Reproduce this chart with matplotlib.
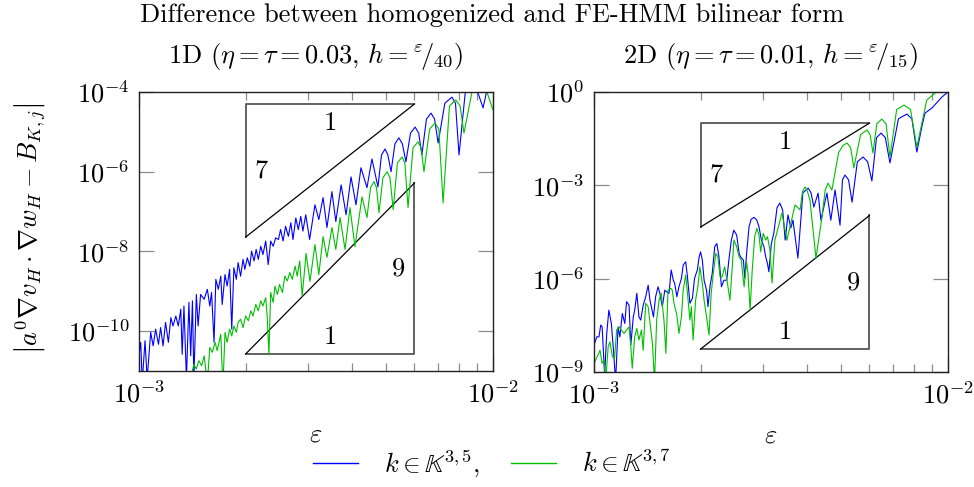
import numpy as np
import matplotlib
matplotlib.use("Agg")
import matplotlib.pyplot as plt
from matplotlib.lines import Line2D
from matplotlib.ticker import LogLocator, NullFormatter, NullLocator

plt.rcParams['font.family'] = 'cmr10'
plt.rcParams['mathtext.fontset'] = 'cm'
plt.rcParams['axes.formatter.use_mathtext'] = True

# values, stored as (log10 eps, log10 error)
blue_1d = np.array([
    (-3.000, -10.60), (-2.995, -10.28), (-2.991, -11.30), (-2.983, -10.24), (-2.977, -11.20),
    (-2.967, -10.03), (-2.960, -10.37), (-2.953, -9.95), (-2.945, -10.33), (-2.939, -9.91),
    (-2.932, -10.37), (-2.925, -9.78), (-2.917, -10.28), (-2.910, -9.66), (-2.904, -9.87),
    (-2.896, -9.62), (-2.889, -9.87), (-2.882, -9.45), (-2.878, -10.58), (-2.873, -9.37),
    (-2.866, -11.20), (-2.859, -9.28), (-2.854, -10.62), (-2.849, -9.24), (-2.845, -11.20),
    (-2.838, -9.08), (-2.833, -9.87), (-2.826, -9.08), (-2.816, -9.20), (-2.807, -8.95),
    (-2.800, -9.37), (-2.795, -9.03), (-2.788, -10.28), (-2.783, -8.70), (-2.776, -8.95),
    (-2.769, -8.62), (-2.765, -9.33), (-2.757, -8.58), (-2.751, -8.87), (-2.744, -8.45),
    (-2.738, -9.95), (-2.732, -8.41), (-2.725, -8.70), (-2.720, -8.28), (-2.713, -8.62),
    (-2.706, -8.20), (-2.701, -8.45), (-2.694, -8.16), (-2.687, -8.37), (-2.682, -7.99),
    (-2.675, -8.24), (-2.669, -7.95), (-2.663, -8.20), (-2.656, -7.87), (-2.650, -8.08),
    (-2.642, -7.74), (-2.635, -8.33), (-2.628, -7.74), (-2.621, -7.87), (-2.614, -7.66),
    (-2.606, -7.70), (-2.600, -7.45), (-2.593, -7.74), (-2.586, -7.37), (-2.578, -7.62),
    (-2.571, -7.28), (-2.565, -7.70), (-2.557, -7.16), (-2.550, -7.45), (-2.543, -7.12),
    (-2.537, -7.49), (-2.529, -7.08), (-2.518, -7.70), (-2.503, -6.83), (-2.492, -7.20),
    (-2.480, -6.65), (-2.469, -7.40), (-2.455, -6.50), (-2.444, -7.25), (-2.429, -6.33),
    (-2.415, -7.08), (-2.401, -6.13), (-2.387, -6.83), (-2.373, -5.90), (-2.356, -6.40),
    (-2.342, -5.68), (-2.325, -6.38), (-2.315, -5.58), (-2.305, -5.43), (-2.297, -5.58),
    (-2.288, -6.00), (-2.277, -5.30), (-2.266, -5.15), (-2.256, -5.30), (-2.246, -5.75),
    (-2.233, -5.03), (-2.220, -4.88), (-2.210, -5.03), (-2.201, -5.58), (-2.188, -4.68),
    (-2.175, -4.53), (-2.165, -4.68), (-2.155, -5.28), (-2.136, -4.28), (-2.116, -4.13),
    (-2.106, -4.28), (-2.096, -5.58), (-2.078, -3.98), (-2.059, -3.83), (-2.044, -3.98),
    (-2.028, -4.40), (-2.016, -3.90), (-2.003, -3.75),
])

green_1d = np.array([
    (-2.852, -11.40), (-2.849, -10.99), (-2.845, -10.83), (-2.838, -10.95), (-2.831, -10.74),
    (-2.823, -10.87), (-2.816, -10.62), (-2.807, -11.30), (-2.800, -10.41), (-2.793, -10.53),
    (-2.785, -10.28), (-2.779, -10.49), (-2.769, -10.08), (-2.763, -11.40), (-2.757, -10.03),
    (-2.751, -10.28), (-2.744, -9.95), (-2.738, -10.12), (-2.732, -9.87), (-2.725, -10.03),
    (-2.720, -9.78), (-2.713, -9.70), (-2.706, -9.91), (-2.699, -9.62), (-2.691, -9.74),
    (-2.684, -9.49), (-2.678, -9.62), (-2.670, -9.33), (-2.663, -9.49), (-2.656, -9.24),
    (-2.650, -9.37), (-2.642, -9.16), (-2.638, -9.62), (-2.633, -10.58), (-2.628, -9.03),
    (-2.621, -9.28), (-2.616, -8.87), (-2.609, -9.08), (-2.603, -8.83), (-2.595, -9.03),
    (-2.588, -8.62), (-2.581, -8.74), (-2.574, -8.53), (-2.567, -8.70), (-2.559, -8.37),
    (-2.553, -8.62), (-2.546, -8.24), (-2.539, -9.12), (-2.528, -8.05), (-2.517, -8.75),
    (-2.503, -7.83), (-2.492, -8.58), (-2.480, -7.63), (-2.469, -8.15), (-2.455, -7.40),
    (-2.444, -7.95), (-2.432, -7.15), (-2.418, -7.95), (-2.404, -6.90), (-2.390, -7.88),
    (-2.370, -6.63), (-2.356, -7.15), (-2.346, -6.40), (-2.336, -6.25), (-2.329, -6.40),
    (-2.322, -7.03), (-2.311, -6.15), (-2.299, -6.00), (-2.291, -6.15), (-2.282, -6.95),
    (-2.270, -5.78), (-2.257, -5.63), (-2.249, -5.78), (-2.240, -6.90), (-2.226, -5.40),
    (-2.212, -5.25), (-2.203, -5.40), (-2.195, -6.00), (-2.179, -4.93), (-2.164, -4.78),
    (-2.153, -4.93), (-2.141, -6.78), (-2.123, -4.35), (-2.105, -4.20), (-2.093, -4.35),
    (-2.082, -5.03), (-2.059, -3.98), (-2.037, -3.83), (-2.018, -3.98), (-2.000, -4.45),
])

blue_2d = np.array([
    (-3.000, -8.13), (-2.992, -7.87), (-2.986, -7.87), (-2.981, -7.49), (-2.977, -7.55),
    (-2.970, -9.10), (-2.964, -7.76), (-2.958, -7.01), (-2.951, -7.44), (-2.945, -8.30),
    (-2.939, -9.30), (-2.932, -7.55), (-2.927, -7.87), (-2.920, -7.12), (-2.913, -7.44),
    (-2.908, -6.74), (-2.901, -6.85), (-2.896, -8.13), (-2.889, -7.23), (-2.885, -7.01),
    (-2.879, -6.47), (-2.873, -7.23), (-2.868, -7.33), (-2.861, -6.85), (-2.854, -6.58),
    (-2.847, -6.21), (-2.842, -6.69), (-2.838, -6.90), (-2.832, -7.23), (-2.826, -6.58),
    (-2.819, -6.26), (-2.814, -6.47), (-2.807, -6.90), (-2.800, -6.37), (-2.795, -6.42),
    (-2.788, -6.47), (-2.782, -5.72), (-2.776, -6.05), (-2.772, -6.15), (-2.766, -6.58),
    (-2.760, -6.26), (-2.753, -5.99), (-2.748, -5.56), (-2.741, -5.46), (-2.736, -5.94),
    (-2.729, -6.79), (-2.722, -6.63), (-2.716, -5.99), (-2.708, -5.72), (-2.703, -5.30),
    (-2.699, -5.14), (-2.694, -5.40), (-2.689, -6.05), (-2.682, -6.37), (-2.678, -6.90),
    (-2.672, -6.21), (-2.666, -5.83), (-2.659, -4.97), (-2.653, -4.87), (-2.647, -5.30),
    (-2.640, -6.26), (-2.633, -6.05), (-2.625, -6.05), (-2.619, -5.40), (-2.612, -4.76),
    (-2.605, -4.44), (-2.597, -4.60), (-2.590, -5.19), (-2.586, -5.30), (-2.578, -5.40),
    (-2.574, -5.99), (-2.569, -5.19), (-2.562, -4.33), (-2.556, -4.09), (-2.548, -4.03),
    (-2.540, -4.12), (-2.534, -4.33), (-2.527, -4.76), (-2.520, -4.97), (-2.515, -5.30),
    (-2.510, -5.51), (-2.506, -5.78), (-2.499, -4.87), (-2.492, -4.54), (-2.483, -3.72),
    (-2.475, -3.57), (-2.467, -3.80), (-2.460, -4.76), (-2.452, -3.95), (-2.444, -4.37),
    (-2.438, -4.12), (-2.424, -5.34), (-2.410, -3.24), (-2.395, -3.09), (-2.387, -3.24),
    (-2.379, -3.70), (-2.367, -3.25), (-2.359, -4.12), (-2.342, -3.25), (-2.331, -4.12),
    (-2.319, -3.15), (-2.305, -4.28), (-2.298, -2.82), (-2.291, -2.67), (-2.281, -2.82),
    (-2.271, -3.54), (-2.256, -2.24), (-2.240, -2.09), (-2.227, -2.24), (-2.215, -2.86),
    (-2.202, -1.47), (-2.189, -1.32), (-2.177, -1.47), (-2.164, -2.28), (-2.140, -0.86),
    (-2.116, -0.71), (-2.102, -0.86), (-2.088, -1.93), (-2.074, -1.12), (-2.065, -0.68),
    (-2.045, -0.51), (-2.017, -0.16), (-2.000, 0.00),
])

green_2d = np.array([
    (-3.000, -8.72), (-2.991, -8.51), (-2.983, -8.30), (-2.977, -8.72), (-2.972, -8.62),
    (-2.967, -9.30), (-2.960, -8.19), (-2.955, -8.03), (-2.948, -8.51), (-2.942, -8.56),
    (-2.936, -7.65), (-2.929, -7.55), (-2.923, -7.65), (-2.915, -7.76), (-2.908, -7.65),
    (-2.901, -7.55), (-2.896, -8.19), (-2.892, -8.88), (-2.885, -7.87), (-2.879, -7.60),
    (-2.873, -7.97), (-2.866, -7.65), (-2.861, -8.30), (-2.854, -6.79), (-2.847, -6.90),
    (-2.842, -7.39), (-2.835, -8.08), (-2.829, -9.30), (-2.823, -7.33), (-2.816, -6.69),
    (-2.810, -6.47), (-2.802, -7.39), (-2.797, -8.40), (-2.791, -6.37), (-2.783, -6.31),
    (-2.779, -6.37), (-2.774, -6.79), (-2.766, -7.17), (-2.760, -7.76), (-2.753, -7.23),
    (-2.748, -6.37), (-2.741, -5.88), (-2.736, -6.47), (-2.729, -7.33), (-2.725, -6.90),
    (-2.720, -7.97), (-2.713, -6.69), (-2.706, -6.21), (-2.701, -5.62), (-2.694, -6.15),
    (-2.689, -6.69), (-2.682, -7.23), (-2.675, -7.81), (-2.669, -6.47), (-2.663, -5.83),
    (-2.656, -5.19), (-2.650, -5.30), (-2.644, -5.94), (-2.638, -5.94), (-2.631, -5.62),
    (-2.623, -6.15), (-2.616, -6.69), (-2.609, -5.56), (-2.605, -4.76), (-2.597, -4.97),
    (-2.590, -5.30), (-2.584, -5.40), (-2.576, -6.26), (-2.569, -5.46), (-2.565, -5.83),
    (-2.559, -7.01), (-2.553, -5.72), (-2.546, -4.65), (-2.540, -4.38), (-2.534, -4.60),
    (-2.529, -5.14), (-2.522, -4.54), (-2.515, -4.76), (-2.510, -4.65), (-2.503, -5.08),
    (-2.497, -6.14), (-2.489, -4.76), (-2.480, -4.37), (-2.469, -3.89), (-2.455, -4.76),
    (-2.432, -3.63), (-2.418, -3.79), (-2.411, -3.20), (-2.404, -3.05), (-2.397, -3.20),
    (-2.390, -3.47), (-2.373, -5.34), (-2.356, -4.02), (-2.347, -3.15), (-2.339, -2.93),
    (-2.328, -3.15), (-2.309, -1.95), (-2.297, -1.72), (-2.285, -1.64), (-2.275, -1.79),
    (-2.266, -2.44), (-2.247, -1.37), (-2.229, -1.22), (-2.220, -1.37), (-2.212, -1.96),
    (-2.201, -1.02), (-2.187, -0.87), (-2.175, -1.02), (-2.164, -2.09), (-2.145, -0.56),
    (-2.124, -0.42), (-2.106, -0.56), (-2.088, -1.77), (-2.074, -1.01), (-2.060, -0.26),
    (-2.032, 0.01), (-2.000, 0.30),
])

# slope triangles: x extent, anchor value, slope
tri_x = (2e-3, 6e-3)
tri_1d = [(5e-5, 7, 'upper'), (2.66e-11, 9, 'lower')]
tri_2d = [(1e-1, 7, 'upper'), (5.45e-9, 9, 'lower')]

ylim_1d = (1e-11, 1e-4)
ylim_2d = (1e-9, 1e0)
yticks_1d = [1e-10, 1e-8, 1e-6, 1e-4]
yticks_2d = [1e-9, 1e-6, 1e-3, 1e0]

blue = '#0000ff'
green = '#00bf00'
fs = 19

fig = plt.figure(figsize=(9.74, 4.87), dpi=100)
ax1 = fig.add_axes([139 / 974, 116 / 487, 354 / 974, 279 / 487])
ax2 = fig.add_axes([594 / 974, 115 / 487, 354 / 974, 280 / 487])


def slope_triangle(ax, x0, x1, anchor, slope, kind):
    xm = np.sqrt(x0 * x1)
    if kind == 'upper':
        ylo = anchor * (x0 / x1) ** slope
        ax.plot([x0, x0, x1], [ylo, anchor, anchor], color='#555555', lw=1.3, zorder=1)
        ax.plot([x0, x1], [ylo, anchor], color='black', lw=0.9, zorder=1)
        ax.annotate('1', (xm, anchor), xytext=(0, -14), textcoords='offset points',
                    ha='center', va='center', fontsize=fs)
        ax.annotate(str(slope), (x0, np.sqrt(ylo * anchor)), xytext=(11.5, 0),
                    textcoords='offset points', ha='center', va='center', fontsize=fs)
    else:
        yhi = anchor * (x1 / x0) ** slope
        ax.plot([x0, x1, x1], [anchor, anchor, yhi], color='#555555', lw=1.3, zorder=1)
        ax.plot([x0, x1], [anchor, yhi], color='black', lw=0.9, zorder=1)
        ax.annotate('1', (xm, anchor), xytext=(0, 12.5), textcoords='offset points',
                    ha='center', va='center', fontsize=fs)
        ax.annotate(str(slope), (x1, np.sqrt(yhi * anchor)), xytext=(-11.5, 0),
                    textcoords='offset points', ha='center', va='center', fontsize=fs)


def style(ax, ylim, yticks):
    ax.set_xscale('log')
    ax.set_yscale('log')
    ax.set_xlim(1e-3, 1e-2)
    ax.set_ylim(*ylim)
    ax.set_xticks([1e-3, 1e-2], [r'$10^{-3}$', r'$10^{-2}$'])
    ax.xaxis.set_minor_locator(LogLocator(base=10, subs=np.arange(2, 10)))
    ax.xaxis.set_minor_formatter(NullFormatter())
    ax.set_yticks(yticks, [r'$10^{%d}$' % round(np.log10(t)) for t in yticks])
    ax.yaxis.set_minor_locator(NullLocator())
    ax.tick_params(which='both', direction='in', top=True, right=True,
                   color='#8c8c8c', labelsize=fs)
    ax.tick_params(which='major', length=11, width=0.9, pad=7)
    ax.tick_params(which='minor', length=6, width=0.9)
    for sp in ax.spines.values():
        sp.set_color('#222222')
        sp.set_linewidth(1.0)
    ax.set_xlabel(r'$\varepsilon$', fontsize=fs)
    ax.xaxis.set_label_coords(0.5, -0.185)


for ax, tris in [(ax1, tri_1d), (ax2, tri_2d)]:
    for anchor, slope, kind in tris:
        slope_triangle(ax, tri_x[0], tri_x[1], anchor, slope, kind)

ax1.plot(10 ** blue_1d[:, 0], 10 ** blue_1d[:, 1], color=blue, lw=0.8, zorder=2)
ax1.plot(10 ** green_1d[:, 0], 10 ** green_1d[:, 1], color=green, lw=0.8, zorder=2)
ax2.plot(10 ** blue_2d[:, 0], 10 ** blue_2d[:, 1], color=blue, lw=0.8, zorder=2)
ax2.plot(10 ** green_2d[:, 0], 10 ** green_2d[:, 1], color=green, lw=0.8, zorder=2)

style(ax1, ylim_1d, yticks_1d)
style(ax2, ylim_2d, yticks_2d)

fig.text(0.505, 1 - 15 / 487, 'Difference between homogenized and FE-HMM bilinear form',
         ha='center', va='center', fontsize=fs)
fig.text(316 / 974, 1 - 57 / 487,
         r'1D ($\eta=\tau=0.03$, $h={}^{\varepsilon}\!/_{40}$)',
         ha='center', va='center', fontsize=fs)
fig.text(771 / 974, 1 - 57 / 487,
         r'2D ($\eta=\tau=0.01$, $h={}^{\varepsilon}\!/_{15}$)',
         ha='center', va='center', fontsize=fs)
fig.text(30 / 974, 1 - 228 / 487,
         r'$\left|a^0\nabla v_H\cdot\nabla w_H-B_{K,j}\right|$',
         rotation=90, ha='center', va='center', fontsize=fs)

handles = [Line2D([], [], color=blue, lw=1.0), Line2D([], [], color=green, lw=1.0)]
fig.legend(handles, [r'$k\in\mathbb{K}^{3,5}$,', r'$k\in\mathbb{K}^{3,7}$'],
           loc='center', bbox_to_anchor=(0.505, 1 - 464 / 487), ncol=2, frameon=False,
           fontsize=fs, handlelength=1.7, handletextpad=1.0, columnspacing=1.15)

fig.savefig('out.png', dpi=100)
